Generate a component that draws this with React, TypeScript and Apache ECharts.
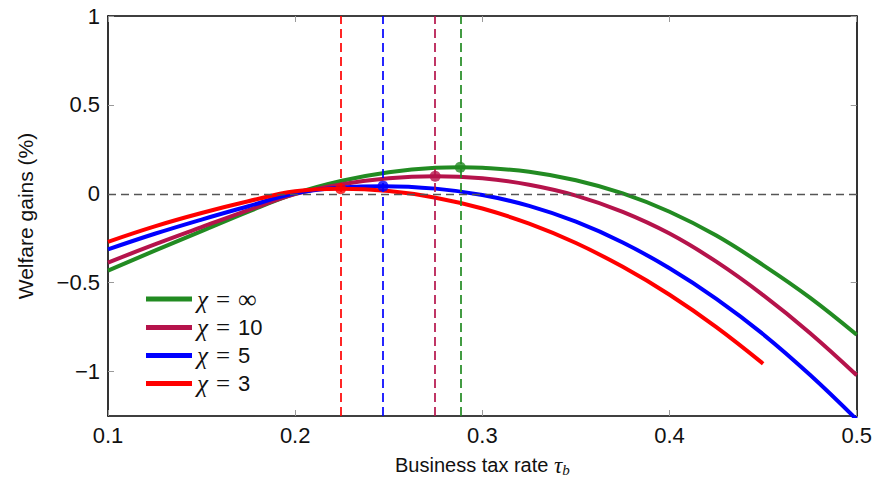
import React, { useEffect, useRef } from "react";
import * as echarts from "echarts";

// Business tax rate grid (τ_b) on which welfare gains are tabulated
const taxGrid = [0.1, 0.125, 0.15, 0.175, 0.2, 0.225, 0.25, 0.275, 0.3, 0.325, 0.35, 0.375, 0.4, 0.425, 0.45, 0.475, 0.5];

// Welfare gains (%) for each adjustment-cost parameter χ
const gainsChiInf = [-0.432, -0.32, -0.21, -0.1, 0.001, 0.073, 0.121, 0.146, 0.146, 0.124, 0.076, 0.002, -0.101, -0.235, -0.401, -0.584, -0.793];
const gainsChi10 = [-0.387, -0.285, -0.188, -0.092, -0.002, 0.054, 0.088, 0.099, 0.087, 0.051, -0.01, -0.102, -0.224, -0.382, -0.57, -0.783, -1.021];
const gainsChi5 = [-0.313, -0.225, -0.145, -0.07, 0.003, 0.035, 0.043, 0.029, -0.007, -0.068, -0.157, -0.274, -0.419, -0.591, -0.79, -1.018, -1.27];
const gainsChi3 = [-0.27, -0.183, -0.108, -0.042, 0.014, 0.028, 0.015, -0.022, -0.083, -0.168, -0.277, -0.411, -0.568, -0.75, -0.956];

// Welfare-maximising tax rate and the gain it delivers
const chiLabels = ["∞", "10", "5", "3"];
const optimalRates = [0.2882, 0.2748, 0.2469, 0.2243];
const optimalGains = [0.149, 0.099, 0.043, 0.028];

const xTicks = [0.1, 0.2, 0.3, 0.4, 0.5];
const yTicks = [-1, -0.5, 0, 0.5, 1];

const seriesColors = ["#228B22", "#B5134B", "#0000FF", "#FF0000"];

const SANS = "'Liberation Sans', Arial, sans-serif";
const SERIF = "'Liberation Serif', 'DejaVu Serif', serif";

function curvePoints(values: number[], optRate: number, optGain: number): number[][] {
  const pts = values
    .map((v, j) => [taxGrid[j], v])
    .filter((p) => Math.abs(p[0] - optRate) > 0.004);
  pts.push([optRate, optGain]);
  pts.sort((a, b) => a[0] - b[0]);
  return pts;
}

export default function App() {
  const ref = useRef<HTMLDivElement>(null);

  useEffect(() => {
    if (!ref.current) return;
    const chart = echarts.init(ref.current, null, { renderer: "svg" });

    const allGains = [gainsChiInf, gainsChi10, gainsChi5, gainsChi3];
    const names = chiLabels.map((c) => `χ = ${c}`);

    const curveSeries = allGains.map((vals, i) => ({
      name: names[i],
      type: "line",
      data: curvePoints(vals, optimalRates[i], optimalGains[i]),
      smooth: 0.4,
      showSymbol: false,
      clip: true,
      z: 3,
      lineStyle: { color: seriesColors[i], width: 4 },
      itemStyle: { color: seriesColors[i] },
    }));

    const tickStyle = { color: "#9a9a9a", width: 1 };
    const frameLine = { show: true, onZero: false, lineStyle: { color: "#000", width: 1.6 } };

    const option: any = {
      animation: false,
      backgroundColor: "#fff",
      grid: { left: 108, right: 18, top: 16, bottom: 63, containLabel: false },
      legend: {
        data: names,
        orient: "vertical",
        left: 141,
        top: 281,
        icon: "rect",
        itemWidth: 46,
        itemHeight: 5,
        itemGap: 3,
        selectedMode: false,
        formatter: (name: string) => {
          const idx = names.indexOf(name);
          const val = chiLabels[idx];
          const valTag = val === "∞" ? "s" : "n";
          return `{g|χ}{e|=}{${valTag}|${val}}`;
        },
        textStyle: {
          lineHeight: 24,
          rich: {
            g: { fontFamily: SERIF, fontStyle: "italic", fontSize: 25, color: "#111", lineHeight: 24, height: 24 },
            e: { fontFamily: SERIF, fontSize: 25, color: "#111", lineHeight: 24, height: 24, padding: [0, 8, 0, 8] },
            n: { fontFamily: SANS, fontSize: 22, color: "#111", lineHeight: 24, height: 24 },
            s: { fontFamily: SERIF, fontSize: 26, color: "#111", lineHeight: 24, height: 24 },
          },
        },
      },
      xAxis: [
        {
          type: "value",
          min: 0.1,
          max: 0.5,
          position: "bottom",
          axisLine: frameLine,
          axisTick: { show: true, inside: true, length: 6, customValues: xTicks, lineStyle: tickStyle },
          axisLabel: {
            customValues: xTicks,
            formatter: (v: number) => v.toFixed(1),
            fontFamily: SANS,
            fontSize: 22,
            color: "#111",
            margin: 8,
          },
          splitLine: { show: false },
          name: "{n|Business tax rate }{t|τ}{s|b}",
          nameLocation: "middle",
          nameGap: 37,
          nameTextStyle: {
            rich: {
              n: { fontFamily: SANS, fontSize: 20, color: "#111", lineHeight: 24 },
              t: { fontFamily: SERIF, fontStyle: "italic", fontSize: 23, color: "#111", lineHeight: 24 },
              s: { fontFamily: SERIF, fontStyle: "italic", fontSize: 15, color: "#111", lineHeight: 15, verticalAlign: "bottom", padding: [8, 0, 0, 0] },
            },
          },
        },
        {
          type: "value",
          min: 0.1,
          max: 0.5,
          position: "top",
          axisLine: frameLine,
          axisTick: { show: true, inside: true, length: 6, customValues: xTicks, lineStyle: tickStyle },
          axisLabel: { show: false },
          splitLine: { show: false },
        },
      ],
      yAxis: [
        {
          type: "value",
          min: -1.25,
          max: 1,
          position: "left",
          axisLine: frameLine,
          axisTick: { show: true, inside: true, length: 6, customValues: yTicks, lineStyle: tickStyle },
          axisLabel: {
            customValues: yTicks,
            formatter: (v: number) => String(v).replace("-", "\u2212"),
            fontFamily: SANS,
            fontSize: 22,
            color: "#111",
            margin: 8,
          },
          splitLine: { show: false },
          name: "Welfare gains (%)",
          nameLocation: "middle",
          nameGap: 72,
          nameTextStyle: { fontFamily: SANS, fontSize: 21, color: "#111" },
        },
        {
          type: "value",
          min: -1.25,
          max: 1,
          position: "right",
          axisLine: frameLine,
          axisTick: { show: true, inside: true, length: 6, customValues: yTicks, lineStyle: tickStyle },
          axisLabel: { show: false },
          splitLine: { show: false },
        },
      ],
      series: [
        {
          name: "guides",
          type: "line",
          data: [],
          z: 1,
          markLine: {
            silent: true,
            precision: 4,
            symbol: ["none", "none"],
            label: { show: false },
            animation: false,
            lineStyle: { type: [8, 5], width: 1.6 },
            data: [
              { yAxis: 0, lineStyle: { color: "#555", type: [8, 5], width: 1.4 } },
              ...optimalRates.map((x, i) => ({
                xAxis: x,
                lineStyle: { color: seriesColors[i], type: [9, 5], width: 1.7 },
              })),
            ],
          },
        },
        ...curveSeries,
        {
          name: "optima",
          type: "scatter",
          z: 4,
          symbol: "circle",
          symbolSize: 11,
          data: optimalRates.map((x, i) => ({
            value: [x, optimalGains[i]],
            itemStyle: { color: seriesColors[i] },
          })),
        },
      ],
    };

    chart.setOption(option);
    return () => chart.dispose();
  }, []);

  return (
    <div
      ref={ref}
      style={{ position: "fixed", left: 0, top: 0, width: 875, height: 482, background: "#fff" }}
    />
  );
}
